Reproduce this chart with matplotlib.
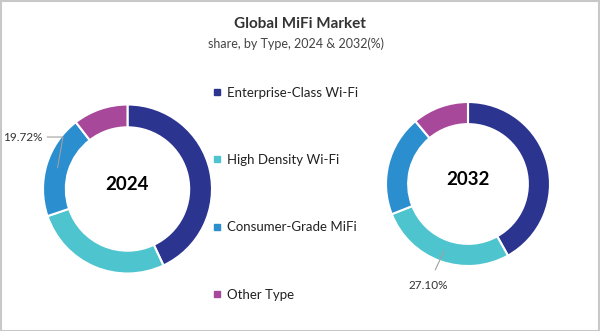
import numpy as np
import matplotlib
matplotlib.use("Agg")
import matplotlib.pyplot as plt
from matplotlib.lines import Line2D
from matplotlib.patches import Rectangle

plt.rcParams['font.family'] = ['Lato', 'DejaVu Sans']

# data
categories = ["Enterprise-Class Wi-Fi", "High Density Wi-Fi",
              "Consumer-Grade MiFi", "Other Type"]
share_2024 = [43.0, 26.8, 19.72, 10.48]
share_2032 = [41.9, 27.10, 19.9, 11.1]
years = ["2024", "2032"]
colors = ["#2B3590", "#4EC4CF", "#2A8ECF", "#A8489A"]

W, H = 600, 331
fig = plt.figure(figsize=(W / 100, H / 100), dpi=100)
fig.patch.set_facecolor("white")
fig.add_artist(Rectangle((0.5 / W, 0.5 / H), 1 - 1.5 / W, 1 - 1.5 / H,
                         transform=fig.transFigure, fill=False,
                         edgecolor="#C8C8C8", linewidth=1.5))

fig.text(300 / W, 1 - 24 / H, "Global MiFi Market", ha="center", va="center",
         fontsize=11, fontweight="bold", color="#333333")
fig.text(296 / W, 1 - 44 / H, "share, by Type, 2024 & 2032(%)", ha="center",
         va="center", fontsize=9, color="#444444")


def donut(cx, cy, r, values, year):
    # axes sized so that data radius 1 == r pixels
    lim = 1.3
    ax = fig.add_axes([(cx - lim * r) / W, 1 - (cy + lim * r) / H,
                       2 * lim * r / W, 2 * lim * r / H])
    wedges, _ = ax.pie(values, colors=colors, startangle=90, counterclock=False,
                       radius=1, wedgeprops=dict(width=0.27, edgecolor="white",
                                                 linewidth=1.5))
    ax.set_xlim(-lim, lim)
    ax.set_ylim(-lim, lim)
    ax.set_aspect("equal")
    ax.axis("off")
    ax.text(0, 0.05, year, ha="center", va="center", fontsize=13.5,
            fontweight="bold", color="black")
    return ax, wedges


def mid_point(w, rad=0.865):
    a = np.deg2rad((w.theta1 + w.theta2) / 2)
    return rad * np.cos(a), rad * np.sin(a)


ax1, w1 = donut(127.5, 189, 84.5, share_2024, years[0])
ax2, w2 = donut(468, 184, 82, share_2032, years[1])

# 19.72% label on Consumer-Grade 2024
x0, y0 = mid_point(w1[2])
ax1.annotate(f"{share_2024[2]:.2f}%", xy=(x0, y0), xytext=(-1.0, 0.615),
             ha="right", va="center", fontsize=8.5, color="#333333",
             annotation_clip=False,
             arrowprops=dict(arrowstyle="-", color="#A0A0A0", lw=0.8,
                             shrinkA=1, shrinkB=0,
                             connectionstyle="angle,angleA=0,angleB=80,rad=0"))

# 27.10% label on High Density 2032
x0, y0 = mid_point(w2[1])
ax2.annotate(f"{share_2032[1]:.2f}%", xy=(x0, y0), xytext=(-0.49, -1.24),
             ha="center", va="center", fontsize=8.5, color="#333333",
             annotation_clip=False,
             arrowprops=dict(arrowstyle="-", color="#A0A0A0", lw=0.8,
                             shrinkA=6, shrinkB=0))

# legend
handles = [Line2D([], [], marker="s", linestyle="", color=c, markersize=5)
           for c in colors]
fig.legend(handles, categories, loc="upper left",
           bbox_to_anchor=(206 / W, 1 - 80 / H), frameon=False,
           fontsize=9.5, handlelength=0.6, handletextpad=0.5,
           labelspacing=4.2, borderpad=0, labelcolor="#222222")

fig.savefig("out.png", dpi=100)
